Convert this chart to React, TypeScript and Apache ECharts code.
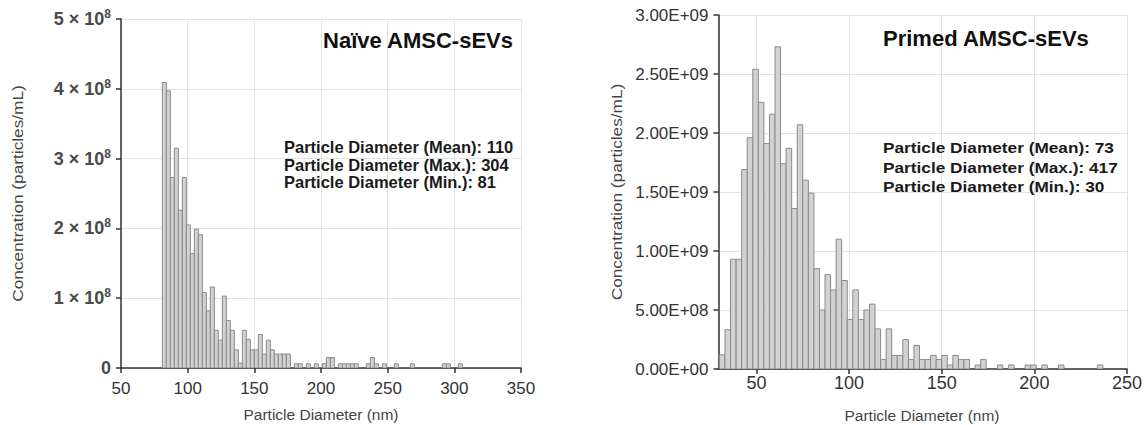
import React, { useEffect, useRef } from "react";
import * as echarts from "echarts";

// ---------- data ----------
// Naïve AMSC-sEVs: 3 nm bins starting at 81 nm (particles/mL)
const naiveBinStart = 81;
const naiveBinWidth = 3;
const naiveConc = [
  4.09e8, 3.97e8, 2.73e8, 3.15e8, 2.26e8, 2.73e8, 2.05e8, 1.64e8, 1.99e8, 1.91e8,
  1.08e8, 0.82e8, 1.16e8, 0.54e8, 0.4e8, 1.03e8, 0.68e8, 0.54e8, 0.26e8, 0.07e8,
  0.54e8, 0.41e8, 0.26e8, 0.26e8, 0.48e8, 0.2e8, 0.4e8, 0.26e8, 0.2e8, 0.2e8,
  0.2e8, 0.2e8, 0, 0.06e8, 0.06e8, 0, 0.06e8, 0, 0.06e8, 0,
  0.06e8, 0.15e8, 0.15e8, 0, 0.06e8, 0.06e8, 0.06e8, 0.06e8, 0.06e8, 0,
  0, 0.06e8, 0.15e8, 0.06e8, 0, 0.06e8, 0, 0, 0.06e8, 0,
  0, 0, 0.06e8, 0, 0, 0, 0, 0, 0, 0,
  0.06e8, 0.06e8, 0, 0, 0.06e8,
];

// Primed AMSC-sEVs: 3 nm bins starting at 30 nm (particles/mL)
const primedBinStart = 30;
const primedBinWidth = 3;
const primedConc = [
  0.12e9, 0.333e9, 0.93e9, 0.93e9, 1.69e9, 1.96e9, 2.54e9, 2.26e9, 1.91e9, 2.16e9,
  2.73e9, 1.74e9, 1.87e9, 1.36e9, 2.07e9, 1.6e9, 1.49e9, 0.85e9, 0.5e9, 0.8e9,
  0.67e9, 1.1e9, 0.75e9, 0.42e9, 0.67e9, 0.42e9, 0.5e9, 0.55e9, 0.34e9, 0.08e9,
  0.34e9, 0.115e9, 0.115e9, 0.25e9, 0.08e9, 0.2e9, 0.08e9, 0.08e9, 0.115e9, 0.08e9,
  0.115e9, 0.034e9, 0.115e9, 0.08e9, 0.08e9, 0, 0.034e9, 0.08e9, 0, 0,
  0.034e9, 0, 0.034e9, 0, 0, 0.034e9, 0.034e9, 0, 0.034e9, 0,
  0, 0.034e9, 0, 0, 0, 0, 0, 0, 0.034e9,
];

const naiveTitle = "Naïve AMSC-sEVs";
const primedTitle = "Primed AMSC-sEVs";
const naiveStats = [
  "Particle Diameter (Mean): 110",
  "Particle Diameter (Max.): 304",
  "Particle Diameter (Min.): 81",
];
const primedStats = [
  "Particle Diameter (Mean): 73",
  "Particle Diameter (Max.): 417",
  "Particle Diameter (Min.): 30",
];
const xTitle = "Particle Diameter (nm)";
const yTitle = "Concentration (particles/mL)";

// ---------- helpers ----------
const FONT = 'Arial, "Liberation Sans", Helvetica, sans-serif';

function toBins(start: number, width: number, vals: number[]) {
  return vals
    .map((v, i) => [start + i * width, start + (i + 1) * width, v])
    .filter((d) => d[2] > 0);
}

function sci2(v: number): string {
  if (v === 0) return "0.00E+00";
  const e = Math.floor(Math.log10(v) + 1e-9);
  const m = v / Math.pow(10, e);
  return `${m.toFixed(2)}E+${String(e).padStart(2, "0")}`;
}

function renderBar(params: any, api: any) {
  const x0 = api.value(0);
  const x1 = api.value(1);
  const v = api.value(2);
  const p0 = api.coord([x0, v]);
  const p1 = api.coord([x1, 0]);
  return {
    type: "rect",
    shape: { x: p0[0], y: p0[1], width: p1[0] - p0[0], height: p1[1] - p0[1] },
    style: { fill: "#d2d2d2", stroke: "#8a8a8a", lineWidth: 1 },
  };
}

const axisLineStyle = { color: "#333", width: 1.5 };
const gridLineStyle = { color: "#e2e2e2", width: 1 };

export default function App() {
  const ref = useRef<HTMLDivElement>(null);

  useEffect(() => {
    if (!ref.current) return;
    const chart = echarts.init(ref.current, undefined, { renderer: "svg" });

    const option: any = {
      animation: false,
      grid: [
        { left: 121, top: 19, width: 400, height: 349 },
        { left: 718.5, top: 15, width: 408.5, height: 354 },
      ],
      xAxis: [
        {
          type: "value",
          gridIndex: 0,
          min: 50,
          max: 350,
          interval: 50,
          axisLine: { show: true, onZero: false, lineStyle: axisLineStyle },
          axisTick: { show: true, length: 5, lineStyle: axisLineStyle },
          axisLabel: { fontSize: 17, color: "#333", margin: 12, fontFamily: FONT },
          splitLine: { show: true, lineStyle: gridLineStyle },
        },
        {
          type: "value",
          gridIndex: 1,
          min: 29.5,
          max: 250,
          minInterval: 50,
          maxInterval: 50,
          axisLine: { show: true, onZero: false, lineStyle: axisLineStyle },
          axisTick: { show: true, length: 5, lineStyle: axisLineStyle },
          axisLabel: {
            fontSize: 18,
            color: "#333",
            margin: 5,
            fontFamily: FONT,
            showMinLabel: false,
          },
          splitLine: { show: true, lineStyle: gridLineStyle },
        },
      ],
      yAxis: [
        {
          type: "value",
          gridIndex: 0,
          min: 0,
          max: 5e8,
          interval: 1e8,
          axisLine: { show: true, onZero: false, lineStyle: axisLineStyle },
          axisTick: { show: true, length: 5, lineStyle: axisLineStyle },
          axisLabel: {
            margin: 10,
            formatter: (v: number) =>
              v === 0 ? "{m|0}" : `{m|${Math.round(v / 1e8)} × 10}{s|8}`,
            rich: {
              m: { fontSize: 18, fontWeight: "bold", color: "#4a4a4a", fontFamily: FONT, lineHeight: 22 },
              s: { fontSize: 12, fontWeight: "bold", color: "#4a4a4a", fontFamily: FONT, lineHeight: 12, verticalAlign: "top" },
            },
          },
          splitLine: { show: true, lineStyle: gridLineStyle },
        },
        {
          type: "value",
          gridIndex: 1,
          min: 0,
          max: 3e9,
          interval: 5e8,
          axisLine: { show: true, onZero: false, lineStyle: axisLineStyle },
          axisTick: { show: true, length: 5, lineStyle: axisLineStyle },
          axisLabel: { fontSize: 17, color: "#333", margin: 10, fontFamily: FONT, formatter: sci2 },
          splitLine: { show: true, lineStyle: gridLineStyle },
        },
      ],
      series: [
        {
          type: "custom",
          xAxisIndex: 0,
          yAxisIndex: 0,
          clip: true,
          data: toBins(naiveBinStart, naiveBinWidth, naiveConc),
          encode: { x: [0, 1], y: 2 },
          renderItem: renderBar,
        },
        {
          type: "custom",
          xAxisIndex: 1,
          yAxisIndex: 1,
          clip: true,
          data: toBins(primedBinStart, primedBinWidth, primedConc),
          encode: { x: [0, 1], y: 2 },
          renderItem: renderBar,
        },
      ],
      graphic: [
        {
          type: "text",
          z: 100,
          x: 513,
          y: 40,
          style: { text: naiveTitle, fontSize: 22, fontWeight: "bold", fontFamily: FONT, fill: "#111", align: "right", verticalAlign: "middle" },
        },
        {
          type: "text",
          z: 100,
          x: 883,
          y: 38.5,
          style: { text: primedTitle, fontSize: 22, fontWeight: "bold", fontFamily: FONT, fill: "#111", align: "left", verticalAlign: "middle" },
        },
        {
          type: "text",
          z: 100,
          x: 284,
          y: 138,
          style: { text: naiveStats.join("\n"), fontSize: 16.5, lineHeight: 17.75, fontWeight: "bold", fontFamily: FONT, fill: "#1a1a1a", align: "left", verticalAlign: "top" },
        },
        {
          type: "text",
          z: 100,
          x: 883,
          y: 138,
          scaleX: 1.15,
          style: { text: primedStats.join("\n"), fontSize: 15, lineHeight: 19.5, fontWeight: "bold", fontFamily: FONT, fill: "#1a1a1a", align: "left", verticalAlign: "top" },
        },
        {
          type: "text",
          z: 100,
          x: 17.5,
          y: 193.5,
          rotation: Math.PI / 2,
          scaleX: 1.15,
          style: { text: yTitle, fontSize: 15, fontFamily: FONT, fill: "#444", align: "center", verticalAlign: "middle" },
        },
        {
          type: "text",
          z: 100,
          x: 616,
          y: 192,
          rotation: Math.PI / 2,
          scaleX: 1.15,
          style: { text: yTitle, fontSize: 15, fontFamily: FONT, fill: "#444", align: "center", verticalAlign: "middle" },
        },
        {
          type: "text",
          z: 100,
          x: 321,
          y: 414,
          style: { text: xTitle, fontSize: 15.5, fontFamily: FONT, fill: "#444", align: "center", verticalAlign: "middle" },
        },
        {
          type: "text",
          z: 100,
          x: 922,
          y: 415,
          style: { text: xTitle, fontSize: 15.5, fontFamily: FONT, fill: "#444", align: "center", verticalAlign: "middle" },
        },
      ],
    };

    chart.setOption(option);
    return () => chart.dispose();
  }, []);

  return (
    <div
      ref={ref}
      style={{ position: "absolute", left: 0, top: 0, width: 1148, height: 425, background: "#fff" }}
    />
  );
}
